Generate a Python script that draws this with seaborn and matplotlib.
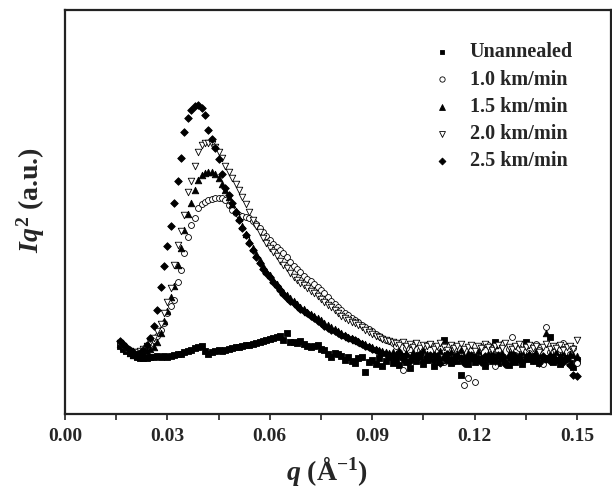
import matplotlib.pyplot as plt
import numpy as np
import pandas as pd
import seaborn as sns

# scattering vector q (1/Angstrom)
q = [0.016, 0.017, 0.018, 0.019, 0.020, 0.021, 0.022, 0.023, 0.024, 0.025,
     0.026, 0.027, 0.028, 0.029, 0.030, 0.031, 0.032, 0.033, 0.034, 0.035,
     0.036, 0.037, 0.038, 0.039, 0.040, 0.041, 0.042, 0.043, 0.044, 0.045,
     0.046, 0.047, 0.048, 0.049, 0.050, 0.051, 0.052, 0.053, 0.054, 0.055,
     0.056, 0.057, 0.058, 0.059, 0.060, 0.061, 0.062, 0.063, 0.064, 0.065,
     0.066, 0.067, 0.068, 0.069, 0.070, 0.071, 0.072, 0.073, 0.074, 0.075,
     0.076, 0.077, 0.078, 0.079, 0.080, 0.081, 0.082, 0.083, 0.084, 0.085,
     0.086, 0.087, 0.088, 0.089, 0.090, 0.091, 0.092, 0.093, 0.094, 0.095,
     0.096, 0.097, 0.098, 0.099, 0.100, 0.101, 0.102, 0.103, 0.104, 0.105,
     0.106, 0.107, 0.108, 0.109, 0.110, 0.111, 0.112, 0.113, 0.114, 0.115,
     0.116, 0.117, 0.118, 0.119, 0.120, 0.121, 0.122, 0.123, 0.124, 0.125,
     0.126, 0.127, 0.128, 0.129, 0.130, 0.131, 0.132, 0.133, 0.134, 0.135,
     0.136, 0.137, 0.138, 0.139, 0.140, 0.141, 0.142, 0.143, 0.144, 0.145,
     0.146, 0.147, 0.148, 0.149, 0.150]

# Iq^2 (a.u.) for each sample
unannealed = [68, 65, 63, 61, 59, 57, 56, 56, 56, 57,
              57, 58, 57, 58, 57, 58, 59, 60, 60, 62,
              63, 64, 66, 67, 68, 63, 60, 62, 63, 64,
              63, 64, 65, 66, 67, 67, 68, 69, 69, 70,
              71, 72, 73, 74, 75, 76, 77, 78, 74, 81,
              72, 72, 71, 73, 70, 68, 67, 68, 69, 65,
              64, 60, 57, 61, 60, 58, 54, 57, 53, 51,
              56, 57, 42, 52, 54, 50, 56, 48, 53, 57, 51,
              55, 49, 58, 52, 46, 56, 53, 59, 50, 54,
              57, 48, 55, 52, 74, 56, 51, 58, 53, 39,
              55, 50, 57, 52, 59, 54, 48, 56, 53, 72,
              51, 57, 54, 49, 58, 52, 56, 50, 72, 55,
              53, 58, 51, 55, 56, 77, 52, 57, 50, 54,
              56, 51, 47, 54]

rate_10 = [71, 68, 65, 63, 62, 62, 63, 65, 67, 70,
           74, 78, 84, 91, 101, 108, 114, 132, 144, 161,
           177, 189, 196, 206, 210, 212, 214, 215, 216, 216,
           216, 214, 209, 204, 201, 199, 198, 197, 196, 193,
           190, 186, 182, 178, 174, 170, 167, 164, 161, 157,
           152, 148, 145, 142, 138, 135, 133, 130, 127, 124,
           121, 117, 113, 110, 107, 104, 101, 99, 96, 94,
           92, 89, 87, 85, 83, 80, 78, 76, 74, 73, 71,
           68, 62, 44, 66, 59, 69, 56, 64, 67, 58,
           70, 54, 63, 66, 52, 68, 60, 65, 57, 62,
           29, 36, 64, 32, 59, 67, 54, 69, 61, 48,
           64, 70, 56, 65, 77, 59, 66, 52, 68, 61,
           56, 70, 64, 50, 87, 62, 68, 57, 65, 71,
           53, 60, 66, 51]

rate_15 = [70, 67, 64, 61, 59, 58, 59, 61, 63, 65,
           67, 72, 81, 93, 103, 117, 128, 149, 166, 184,
           200, 211, 224, 234, 239, 241, 242, 242, 240, 236,
           230, 224, 217, 210, 203, 196, 188, 180, 173, 166,
           160, 154, 148, 143, 139, 134, 130, 126, 122, 119,
           116, 113, 110, 107, 105, 102, 100, 98, 96, 94,
           91, 89, 87, 85, 83, 81, 79, 77, 76, 74,
           73, 71, 70, 68, 67, 65, 64, 63, 62, 61, 62,
           60, 63, 58, 61, 56, 62, 59, 57, 64, 60,
           55, 61, 58, 63, 59, 54, 62, 57, 60, 64,
           58, 61, 56, 59, 63, 57, 52, 60, 62, 69,
           58, 61, 54, 60, 63, 57, 59, 62, 56, 60,
           58, 63, 59, 55, 81, 60, 57, 62, 58, 61,
           56, 60, 59, 58]

rate_20 = [71, 68, 65, 63, 62, 62, 63, 65, 68, 72,
           76, 83, 90, 101, 112, 126, 149, 169, 183, 199,
           222, 233, 248, 262, 269, 271, 271, 270, 267, 262,
           256, 248, 242, 236, 230, 224, 217, 210, 202, 194,
           188, 182, 176, 171, 166, 162, 158, 153, 149, 146,
           141, 137, 134, 131, 129, 126, 123, 121, 118, 115,
           112, 109, 107, 104, 101, 98, 96, 94, 92, 91,
           89, 87, 84, 82, 80, 78, 77, 75, 74, 73, 72,
           71, 69, 72, 68, 70, 67, 71, 66, 69, 68,
           70, 65, 68, 71, 67, 64, 69, 66, 68, 70,
           65, 67, 69, 63, 68, 66, 70, 67, 64, 68,
           69, 66, 71, 67, 65, 68, 70, 64, 67, 69,
           66, 68, 62, 67, 70, 65, 68, 66, 69, 64,
           67, 68, 65, 74]

rate_25 = [73, 70, 67, 64, 62, 60, 61, 64, 69, 76,
           88, 104, 127, 148, 168, 188, 211, 233, 256, 282,
           296, 304, 308, 309, 306, 299, 284, 275, 266, 255,
           240, 226, 219, 211, 202, 194, 186, 179, 171, 164,
           157, 151, 145, 141, 137, 132, 128, 124, 120, 116,
           113, 111, 108, 105, 103, 101, 98, 96, 93, 91,
           88, 86, 84, 83, 81, 79, 78, 76, 75, 74,
           72, 70, 68, 67, 65, 64, 62, 61, 60, 59, 58,
           57, 61, 55, 59, 53, 58, 56, 60, 52, 57,
           59, 54, 58, 51, 56, 60, 55, 53, 58, 56,
           51, 57, 59, 54, 56, 52, 58, 55, 57, 53,
           59, 56, 50, 57, 54, 58, 55, 52, 57, 59,
           54, 56, 51, 58, 55, 53, 57, 54, 56, 52,
           55, 49, 39, 38]

labels = ["Unannealed", "1.0 km/min", "1.5 km/min", "2.0 km/min", "2.5 km/min"]
xticks = [0.00, 0.03, 0.06, 0.09, 0.12, 0.15]

series = [unannealed, rate_10, rate_15, rate_20, rate_25]
df = pd.concat([pd.DataFrame({"q": q, "I": s, "sample": lab})
                for s, lab in zip(series, labels)], ignore_index=True)

sns.set_style("ticks")
plt.rcParams["font.family"] = ["Liberation Serif", "DejaVu Serif"]
plt.rcParams["font.weight"] = "bold"
plt.rcParams["mathtext.fontset"] = "custom"
plt.rcParams["mathtext.rm"] = "Liberation Serif:bold"
plt.rcParams["mathtext.bf"] = "Liberation Serif:bold"
plt.rcParams["mathtext.it"] = "Liberation Serif:italic:bold"

fig = plt.figure(figsize=(6.12, 4.9), dpi=100)
ax = fig.add_axes([65 / 612, 76 / 490, 546 / 612, 404 / 490])

# marker style per sample (open symbols have white faces)
styles = {
    "Unannealed": dict(marker="s", s=15, facecolor="black"),
    "1.0 km/min": dict(marker="o", s=18, facecolor="white"),
    "1.5 km/min": dict(marker="^", s=22, facecolor="black"),
    "2.0 km/min": dict(marker="v", s=22, facecolor="white"),
    "2.5 km/min": dict(marker="D", s=15, facecolor="black"),
}

for lab in labels:
    st = styles[lab]
    sns.scatterplot(data=df[df["sample"] == lab], x="q", y="I", ax=ax,
                    marker=st["marker"], s=st["s"], color=st["facecolor"],
                    edgecolor="black", linewidth=0.6, label=lab, zorder=3)

ax.set_xlim(0, 0.16)
ax.set_ylim(0, 404)
ax.set_xticks(xticks)
ax.set_xticklabels([f"{t:.2f}" for t in xticks])
ax.set_xticks([0.015, 0.045, 0.075, 0.105, 0.135], minor=True)
ax.set_yticks([])
ax.tick_params(axis="x", which="both", direction="out", length=4, width=1.2,
               labelsize=14, pad=6, color="#222222")

for sp in ax.spines.values():
    sp.set_linewidth(1.6)
    sp.set_color("#222222")

ax.set_xlabel(r"$q$ ($\mathrm{\AA}^{-1}$)", fontsize=20, fontweight="bold")
ax.set_ylabel(r"$Iq^{2}$ (a.u.)", fontsize=20, fontweight="bold")
ax.xaxis.set_label_coords(0.48, -0.10)
ax.yaxis.set_label_coords(-0.033, 0.53)

leg = ax.legend(loc="upper left", bbox_to_anchor=(0.653, 0.94), frameon=False,
                prop={"family": "Liberation Serif", "weight": "bold", "size": 14.5},
                handletextpad=0.8, labelspacing=0.36, markerscale=0.9,
                handlelength=1.2, borderaxespad=0)

fig.savefig("out.png", dpi=100)
